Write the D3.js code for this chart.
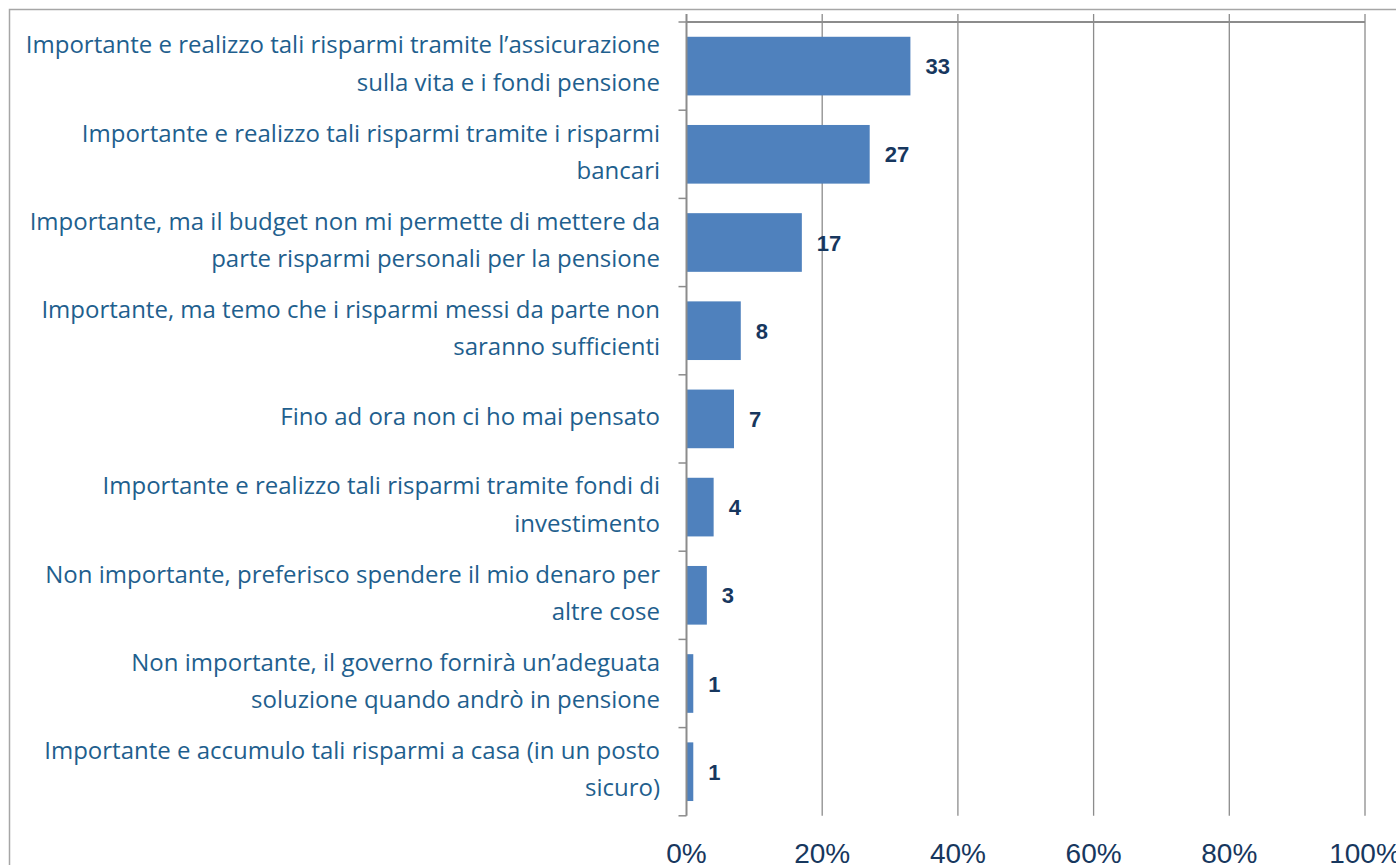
<!DOCTYPE html>
<html>
<head>
<meta charset="utf-8">
<script src="https://cdn.jsdelivr.net/npm/d3@7"></script>
<style>
  body { margin: 0; background: #fff; }
  svg { display: block; }
</style>
</head>
<body>
<div class="containers"></div>
<script>
const categories = [
  ['Importante e realizzo tali risparmi tramite l\u2019assicurazione', 'sulla vita e i fondi pensione'],
  ['Importante e realizzo tali risparmi tramite i risparmi', 'bancari'],
  ['Importante, ma il budget non mi permette di mettere da', 'parte risparmi personali per la pensione'],
  ['Importante, ma temo che i risparmi messi da parte non', 'saranno sufficienti'],
  ['Fino ad ora non ci ho mai pensato'],
  ['Importante e realizzo tali risparmi tramite fondi di', 'investimento'],
  ['Non importante, preferisco spendere il mio denaro per', 'altre cose'],
  ['Non importante, il governo fornir\u00e0 un\u2019adeguata', 'soluzione quando andr\u00f2 in pensione'],
  ['Importante e accumulo tali risparmi a casa (in un posto', 'sicuro)']
]
const values = [33, 27, 17, 8, 7, 4, 3, 1, 1]
const ticks = [0, 20, 40, 60, 80, 100]

const width = 1396
const height = 865
const plotLeft = 686.5
const plotRight = 1365
const plotTop = 22
const plotBottom = 815.8

const svg = d3
  .select('.containers')
  .append('svg')
  .attr('width', width)
  .attr('height', height)

// outer frame
svg.append('path')
  .attr('d', `M9.5,${height + 2} L9.5,9.5 L${width + 2},9.5`)
  .attr('fill', 'none')
  .attr('stroke', '#a6a6a6')
  .attr('stroke-width', 1.5)

const x = d3.scaleLinear().domain([0, 100]).range([plotLeft, plotRight])
const idx = categories.map((d, i) => i)
const y = d3
  .scaleBand()
  .domain(idx)
  .range([plotTop, plotBottom])
  .paddingInner(0.335)
  .paddingOuter(0.335 / 2)
const step = y.step()

// gridlines (with small ticks above the top line)
svg.append('g')
  .selectAll('line')
  .data(ticks.slice(1))
  .join('line')
  .attr('x1', d => x(d))
  .attr('x2', d => x(d))
  .attr('y1', plotTop - 8)
  .attr('y2', plotBottom)
  .attr('stroke', '#8c8c8c')
  .attr('stroke-width', 1.3)

// top line
svg.append('line')
  .attr('x1', plotLeft)
  .attr('x2', plotRight)
  .attr('y1', plotTop)
  .attr('y2', plotTop)
  .attr('stroke', '#8c8c8c')
  .attr('stroke-width', 1.8)

// bars
svg.append('g')
  .selectAll('rect')
  .data(values)
  .join('rect')
  .attr('x', x(0))
  .attr('y', (d, i) => y(i))
  .attr('width', d => x(d) - x(0))
  .attr('height', y.bandwidth())
  .attr('fill', '#4f81bd')

// category axis
svg.append('line')
  .attr('x1', plotLeft)
  .attr('x2', plotLeft)
  .attr('y1', plotTop - 8)
  .attr('y2', plotBottom)
  .attr('stroke', '#8c8c8c')
  .attr('stroke-width', 2)

svg.append('g')
  .selectAll('line')
  .data(d3.range(categories.length + 1))
  .join('line')
  .attr('x1', plotLeft - 8)
  .attr('x2', plotLeft)
  .attr('y1', i => plotTop + i * step)
  .attr('y2', i => plotTop + i * step)
  .attr('stroke', '#8c8c8c')
  .attr('stroke-width', 1.5)

// category labels
const lineH = 37.5
svg.append('g')
  .selectAll('text')
  .data(categories)
  .join('text')
  .attr('text-anchor', 'end')
  .attr('fill', '#1f5f8e')
  .attr('font-family', 'Open Sans, sans-serif')
  .attr('font-size', 24)
  .each(function (d, i) {
    const mid = y(i) + y.bandwidth() / 2 + 6
    const first = mid - (d.length - 1) * lineH / 2
    d3.select(this)
      .selectAll('tspan')
      .data(d)
      .join('tspan')
      .attr('x', 660)
      .attr('y', (t, j) => first + j * lineH)
      .text(t => t)
  })

// value labels
svg.append('g')
  .selectAll('text')
  .data(values)
  .join('text')
  .attr('x', d => x(d) + 15)
  .attr('y', (d, i) => y(i) + y.bandwidth() / 2 + 8)
  .attr('fill', '#17375e')
  .attr('font-family', 'Liberation Sans, Arial, sans-serif')
  .attr('font-weight', 'bold')
  .attr('font-size', 22)
  .text(d => d)

// percent tick labels
svg.append('g')
  .selectAll('text')
  .data(ticks)
  .join('text')
  .attr('x', d => x(d))
  .attr('y', 863)
  .attr('text-anchor', 'middle')
  .attr('fill', '#17375e')
  .attr('font-family', 'Liberation Sans, Arial, sans-serif')
  .attr('font-size', 28)
  .text(d => d + '%')
</script>
</body>
</html>
